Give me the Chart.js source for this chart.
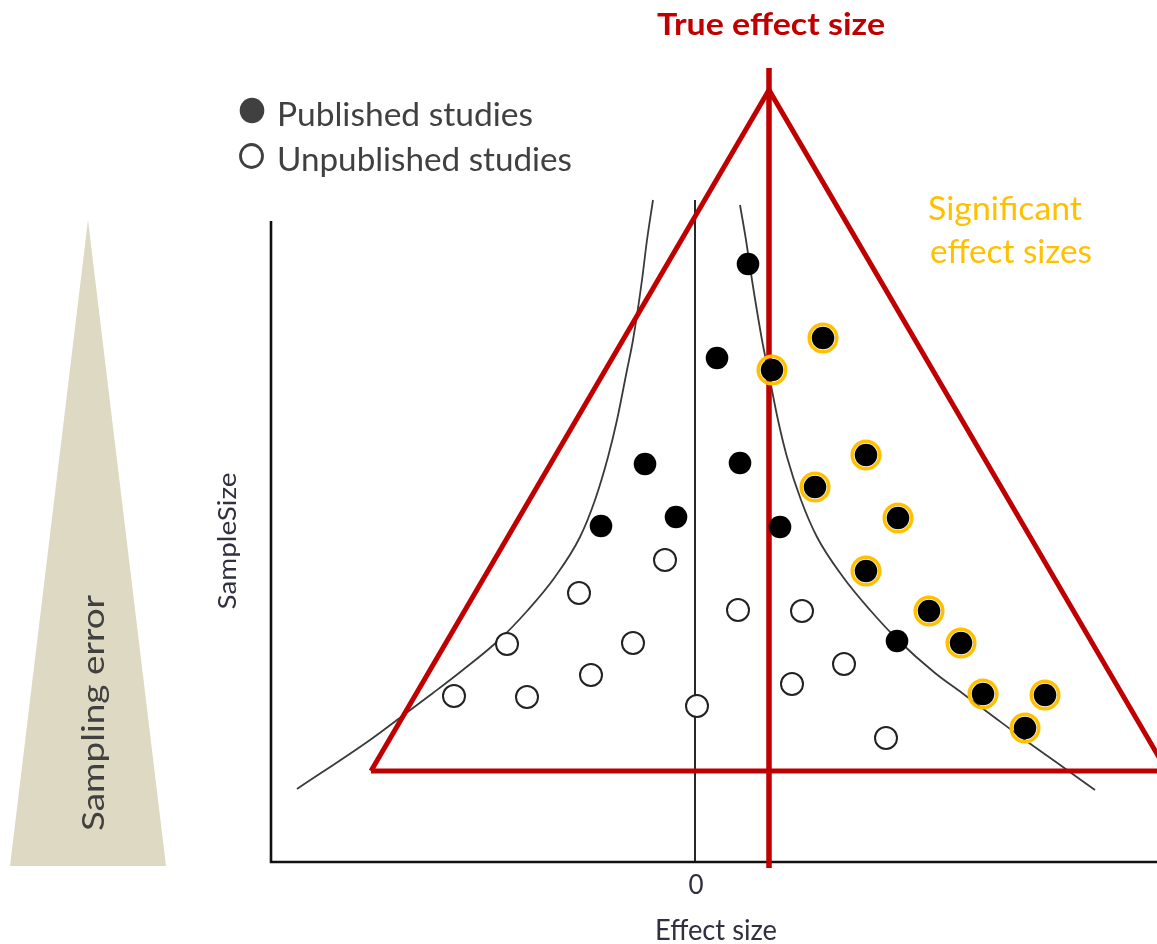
<!DOCTYPE html>
<html><head><meta charset="utf-8">
<script src="https://cdn.jsdelivr.net/npm/chart.js@4.4.1/dist/chart.umd.min.js"></script>
<style>html,body{margin:0;padding:0;background:#fff;overflow:hidden}#wrap{position:relative;width:1157px;height:944px}</style>
</head><body><div id="wrap"><canvas id="c"></canvas></div>
<script>
// ---- data (effect size on x, sample size on y, arbitrary units) ----
const publishedEffect = [0.53, 0.22, 0.77, 1.28, -0.50, 0.45, 1.71, 1.20, -0.94, -0.19, 0.85, 2.03, 1.71, 2.34, 2.66, 2.02, 2.88, 3.50, 3.30];
const publishedSize   = [5.98, 5.04, 4.92, 5.24, 3.98, 3.99, 4.07, 3.75, 3.36, 3.45, 3.35, 3.44, 2.91, 2.51, 2.19, 2.21, 1.68, 1.67, 1.34];
const significantFlag = [0, 0, 1, 1, 0, 0, 1, 1, 0, 0, 0, 1, 1, 1, 1, 0, 1, 1, 1];
const unpublishedEffect = [-0.30, -1.16, -1.88, -0.62, -1.04, -2.41, -1.68, 0.02, 0.43, 1.07, 1.49, 0.97, 1.91];
const unpublishedSize   = [3.02, 2.69, 2.18, 2.19, 1.87, 1.66, 1.65, 1.56, 2.52, 2.51, 1.98, 1.78, 1.24];
const funnelLeftEffect  = [-3.98, -3.25, -2.94, -2.62, -2.36, -1.96, -1.67, -1.40, -1.15, -1.00, -0.87, -0.78, -0.68, -0.62, -0.53, -0.48, -0.42];
const funnelLeftSize    = [0.73, 1.22, 1.45, 1.69, 1.89, 2.22, 2.52, 2.85, 3.25, 3.62, 4.05, 4.42, 4.92, 5.22, 5.82, 6.22, 6.62];
const funnelRightEffect = [0.45, 0.51, 0.57, 0.67, 0.73, 0.83, 0.92, 1.06, 1.22, 1.48, 1.75, 2.03, 2.40, 2.67, 2.99, 3.30, 3.61, 4.00];
const funnelRightSize   = [6.57, 6.22, 5.82, 5.22, 4.92, 4.42, 4.05, 3.62, 3.25, 2.85, 2.52, 2.22, 1.89, 1.69, 1.45, 1.22, 1.00, 0.72];
const trueEffect = 0.74;
const trueLineSize = [7.94, -0.06];
const triangleEffect = [-3.24, 0.74, 4.72, -3.24];
const triangleSize   = [0.91, 7.72, 0.91, 0.91];
const samplingEffect = [-6.85, -6.07, -5.29];
const samplingSize   = [-0.04, 6.42, -0.04];
const axisEffect = [-4.24, -4.24, 4.70];
const axisSize   = [6.41, 0, 0];
const zeroLineSize = [6.62, 0];
const xTickLabels = ['0'];
const xTitle = 'Effect size', yTitle = 'SampleSize';
const legendLabels = ['Published studies', 'Unpublished studies'];
const titleText = 'True effect size';
const sigText = ['Significant', 'effect sizes'];
const errText = 'Sampling error';

const pts = (xs, ys) => xs.map((x, i) => ({x, y: ys[i]}));
const sigPts = pts(publishedEffect, publishedSize).filter((p, i) => significantFlag[i]);

const line = (data, color, width, extra) => Object.assign({type: 'line', data, borderColor: color, borderWidth: width, pointRadius: 0, fill: false, tension: 0}, extra || {});

const datasets = [
  {type: 'scatter', data: sigPts, pointRadius: 13.8, pointBorderWidth: 3.5, pointBorderColor: '#FFC000', pointBackgroundColor: 'rgba(0,0,0,0)', showLine: false},
  {type: 'scatter', data: pts(publishedEffect, publishedSize), pointRadius: 11.3, pointBorderWidth: 0, pointBackgroundColor: '#000', pointBorderColor: '#000', showLine: false},
  {type: 'scatter', data: pts(unpublishedEffect, unpublishedSize), pointRadius: 11, pointBorderWidth: 2, pointBackgroundColor: '#fff', pointBorderColor: '#222', showLine: false},
  line(pts([trueEffect, trueEffect], trueLineSize), '#C00000', 5.5, {borderCapStyle: 'butt'}),
  line(pts(triangleEffect, triangleSize), '#C00000', 5, {borderJoinStyle: 'miter'}),
  line(pts(funnelLeftEffect, funnelLeftSize), '#3a3a3a', 1.8, {cubicInterpolationMode: 'monotone'}),
  line(pts(funnelRightEffect, funnelRightSize), '#3a3a3a', 1.8, {cubicInterpolationMode: 'monotone'}),
  line(pts([0, 0], zeroLineSize), '#111', 1.8),
  line(pts(axisEffect, axisSize), '#111', 2.6, {borderJoinStyle: 'miter'}),
  line(pts(samplingEffect, samplingSize), 'rgba(0,0,0,0)', 0, {fill: 'shape', backgroundColor: '#DDD9C3'})
];

function txt(ctx, s, x, y, o) {
  ctx.save();
  ctx.font = (o.weight || 'normal') + ' ' + o.size + 'px ' + (o.family || 'Lato, "Open Sans", sans-serif');
  const w = ctx.measureText(s).width;
  const sx = o.width ? o.width / w : 1;
  ctx.translate(x, y);
  if (o.rotate) ctx.rotate(o.rotate);
  ctx.scale(sx, 1);
  ctx.fillStyle = o.color;
  ctx.textBaseline = 'alphabetic';
  ctx.textAlign = o.align || 'left';
  ctx.fillText(s, 0, 0);
  ctx.restore();
}

const decor = {
  id: 'decor',
  afterDraw(chart) {
    const ctx = chart.ctx, xs = chart.scales.x;
    const x0 = xs.getPixelForValue(0), xt = xs.getPixelForValue(trueEffect);
    txt(ctx, titleText, xt + 2, 35, {size: 30, weight: 'bold', width: 228, color: '#C00000', align: 'center'});
    // legend
    ctx.save();
    ctx.fillStyle = '#404040';
    ctx.beginPath(); ctx.ellipse(252, 110.5, 12.3, 12.8, 0, 0, Math.PI * 2); ctx.fill();
    ctx.strokeStyle = '#404040'; ctx.lineWidth = 2.8;
    ctx.beginPath(); ctx.ellipse(251.5, 156, 11, 11.5, 0, 0, Math.PI * 2); ctx.stroke();
    ctx.restore();
    txt(ctx, legendLabels[0], 277, 126, {size: 33, width: 256, color: '#404040'});
    txt(ctx, legendLabels[1], 277, 171, {size: 33, width: 295, color: '#404040'});
    txt(ctx, sigText[0], 928, 220, {size: 32, width: 154, color: '#FFC000'});
    txt(ctx, sigText[1], 930, 263, {size: 32, width: 162, color: '#FFC000'});
    txt(ctx, errText, 104, 713, {size: 30, width: 236, color: '#404040', align: 'center', rotate: -Math.PI / 2});
    txt(ctx, yTitle, 236, 541, {size: 25, width: 137, color: '#303040', align: 'center', rotate: -Math.PI / 2});
    txt(ctx, xTickLabels[0], x0 + 1, 894, {size: 26, color: '#303040', align: 'center'});
    txt(ctx, xTitle, 716, 940, {size: 29, width: 122, color: '#303040', align: 'center'});
  }
};

new Chart(document.getElementById('c'), {
  type: 'line',
  data: {datasets},
  options: {
    responsive: true, maintainAspectRatio: false, animation: false, events: [],
    layout: {padding: 0, autoPadding: false},
    plugins: {legend: {display: false}, tooltip: {enabled: false}},
    scales: {
      x: {type: 'linear', min: -6.95, max: 4.62, display: false},
      y: {type: 'linear', min: -0.82, max: 8.62, display: false}
    }
  },
  plugins: [decor]
});
</script></body></html>
